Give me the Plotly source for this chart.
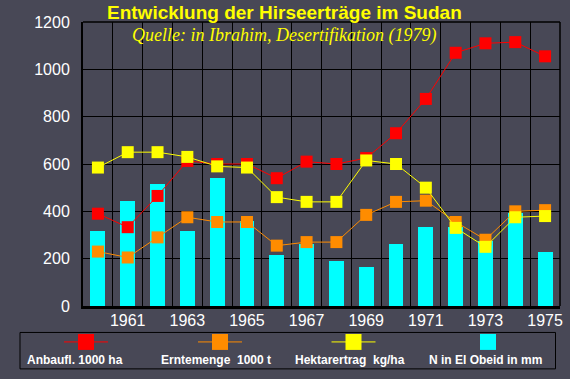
import plotly.graph_objects as go

years = list(range(1960, 1976))
anbauflaeche = [390, 333, 465, 613, 600, 600, 540, 610, 600, 625, 730, 875, 1070, 1110, 1115, 1055]
erntemenge = [230, 205, 290, 375, 355, 355, 255, 270, 270, 385, 440, 445, 355, 280, 400, 405]
hektarertrag = [585, 650, 650, 630, 590, 585, 460, 440, 440, 615, 600, 500, 330, 250, 375, 380]
niederschlag = [315, 445, 515, 315, 540, 360, 215, 260, 190, 165, 260, 335, 335, 275, 395, 230]
y_ticks = [0, 200, 400, 600, 800, 1000, 1200]
x_tickvals = [y for y in years if y % 2 == 1]
x_ticktext = [str(y) for y in x_tickvals]

series_names = ["Anbaufl. 1000 ha", "Erntemenge  1000 t", "Hektarertrag  kg/ha", "N in El Obeid in mm"]

BG = "#484856"
RED = "#ff0000"
ORANGE = "#ff8c00"
YELLOW = "#ffff00"
CYAN = "#00ffff"

W, H = 570, 379
L, R, T, B = 83, 10, 21.5, 73
pw = W - L - R
ph = H - T - B


def px(x):
    return (x - L) / pw


def py(y):
    return (H - B - y) / ph


fig = go.Figure()
fig.add_trace(go.Bar(x=years, y=niederschlag, width=0.5, marker=dict(color=CYAN, line=dict(width=0)),
                     name=series_names[3], showlegend=False))
for vals, col, nm in [(anbauflaeche, RED, series_names[0]),
                      (erntemenge, ORANGE, series_names[1]),
                      (hektarertrag, YELLOW, series_names[2])]:
    fig.add_trace(go.Scatter(x=years, y=vals, mode="lines+markers", name=nm, showlegend=False,
                             line=dict(color=col, width=1),
                             marker=dict(symbol="square", size=12, color=col, line=dict(width=0))))

shapes = []
shapes.append(dict(type="line", xref="paper", yref="paper", x0=0, x1=1, y0=1, y1=1,
                   line=dict(color="black", width=1.5), layer="above"))
shapes.append(dict(type="line", xref="paper", yref="paper", x0=1, x1=1, y0=0, y1=1,
                   line=dict(color="black", width=1.5), layer="above"))
shapes.append(dict(type="rect", xref="paper", yref="paper", x0=px(20), x1=px(555.5), y0=py(369), y1=py(332.5),
                   fillcolor=BG, line=dict(color="black", width=1), layer="above"))

legend_items = [
    (86, RED, True, 25),
    (220, ORANGE, True, 158.5),
    (353.5, YELLOW, True, 292.5),
    (488, CYAN, False, 426.5),
]
annotations = []
for (cx, col, has_line, tx), nm in zip(legend_items, series_names):
    cy = 342
    if has_line:
        shapes.append(dict(type="line", xref="paper", yref="paper", x0=px(cx - 22), x1=px(cx + 22),
                           y0=py(cy), y1=py(cy), line=dict(color=col, width=1), layer="above"))
    shapes.append(dict(type="rect", xref="paper", yref="paper", x0=px(cx - 8), x1=px(cx + 8),
                       y0=py(cy + 8), y1=py(cy - 8), fillcolor=col, line=dict(width=0), layer="above"))
    annotations.append(dict(text="<b>" + nm + "</b>", xref="paper", yref="paper", x=px(tx), y=py(360),
                            xanchor="left", yanchor="middle", showarrow=False,
                            font=dict(family="Liberation Sans, Arial", size=12, color="white")))

annotations.append(dict(text="<b>Entwicklung der Hirseerträge im Sudan</b>", xref="paper", yref="paper",
                        x=px(284.5), y=py(12), xanchor="center", yanchor="middle", showarrow=False,
                        font=dict(family="Liberation Sans, Arial", size=19, color=YELLOW)))
annotations.append(dict(text="<i>Quelle: in Ibrahim, Desertifikation (1979)</i>", xref="paper", yref="paper",
                        x=px(284), y=py(35), xanchor="center", yanchor="middle", showarrow=False,
                        font=dict(family="Liberation Serif, Times New Roman", size=18, color=YELLOW)))

fig.update_layout(
    width=W, height=H,
    margin=dict(l=L, r=R, t=T, b=B, autoexpand=False),
    paper_bgcolor=BG, plot_bgcolor=BG,
    showlegend=False,
    bargap=0,
    shapes=shapes,
    annotations=annotations,
    xaxis=dict(range=[1959.5, 1975.5], tickmode="array", tickvals=x_tickvals, ticktext=x_ticktext,
               showgrid=False, zeroline=False, showline=True, linecolor="black", linewidth=3,
               ticks="", ticklabelstandoff=-2, automargin=False,
               tickfont=dict(family="Liberation Sans, Arial", size=16, color="white"),
               minor=dict(tickmode="array", tickvals=[y + 0.5 for y in years[:-1]], showgrid=True,
                          gridcolor="black", gridwidth=1, ticks="")),
    yaxis=dict(range=[0, 1200], tickmode="array", tickvals=y_ticks, showgrid=True, gridcolor="black",
               gridwidth=1, zeroline=False, showline=True, linecolor="black", linewidth=2,
               ticks="", ticklabelstandoff=8, automargin=False,
               tickfont=dict(family="Liberation Sans, Arial", size=16, color="white")),
)

fig.write_html("out.html", config={"displayModeBar": False},
               post_script="document.body.style.margin='0';document.body.style.background='" + BG + "';")
